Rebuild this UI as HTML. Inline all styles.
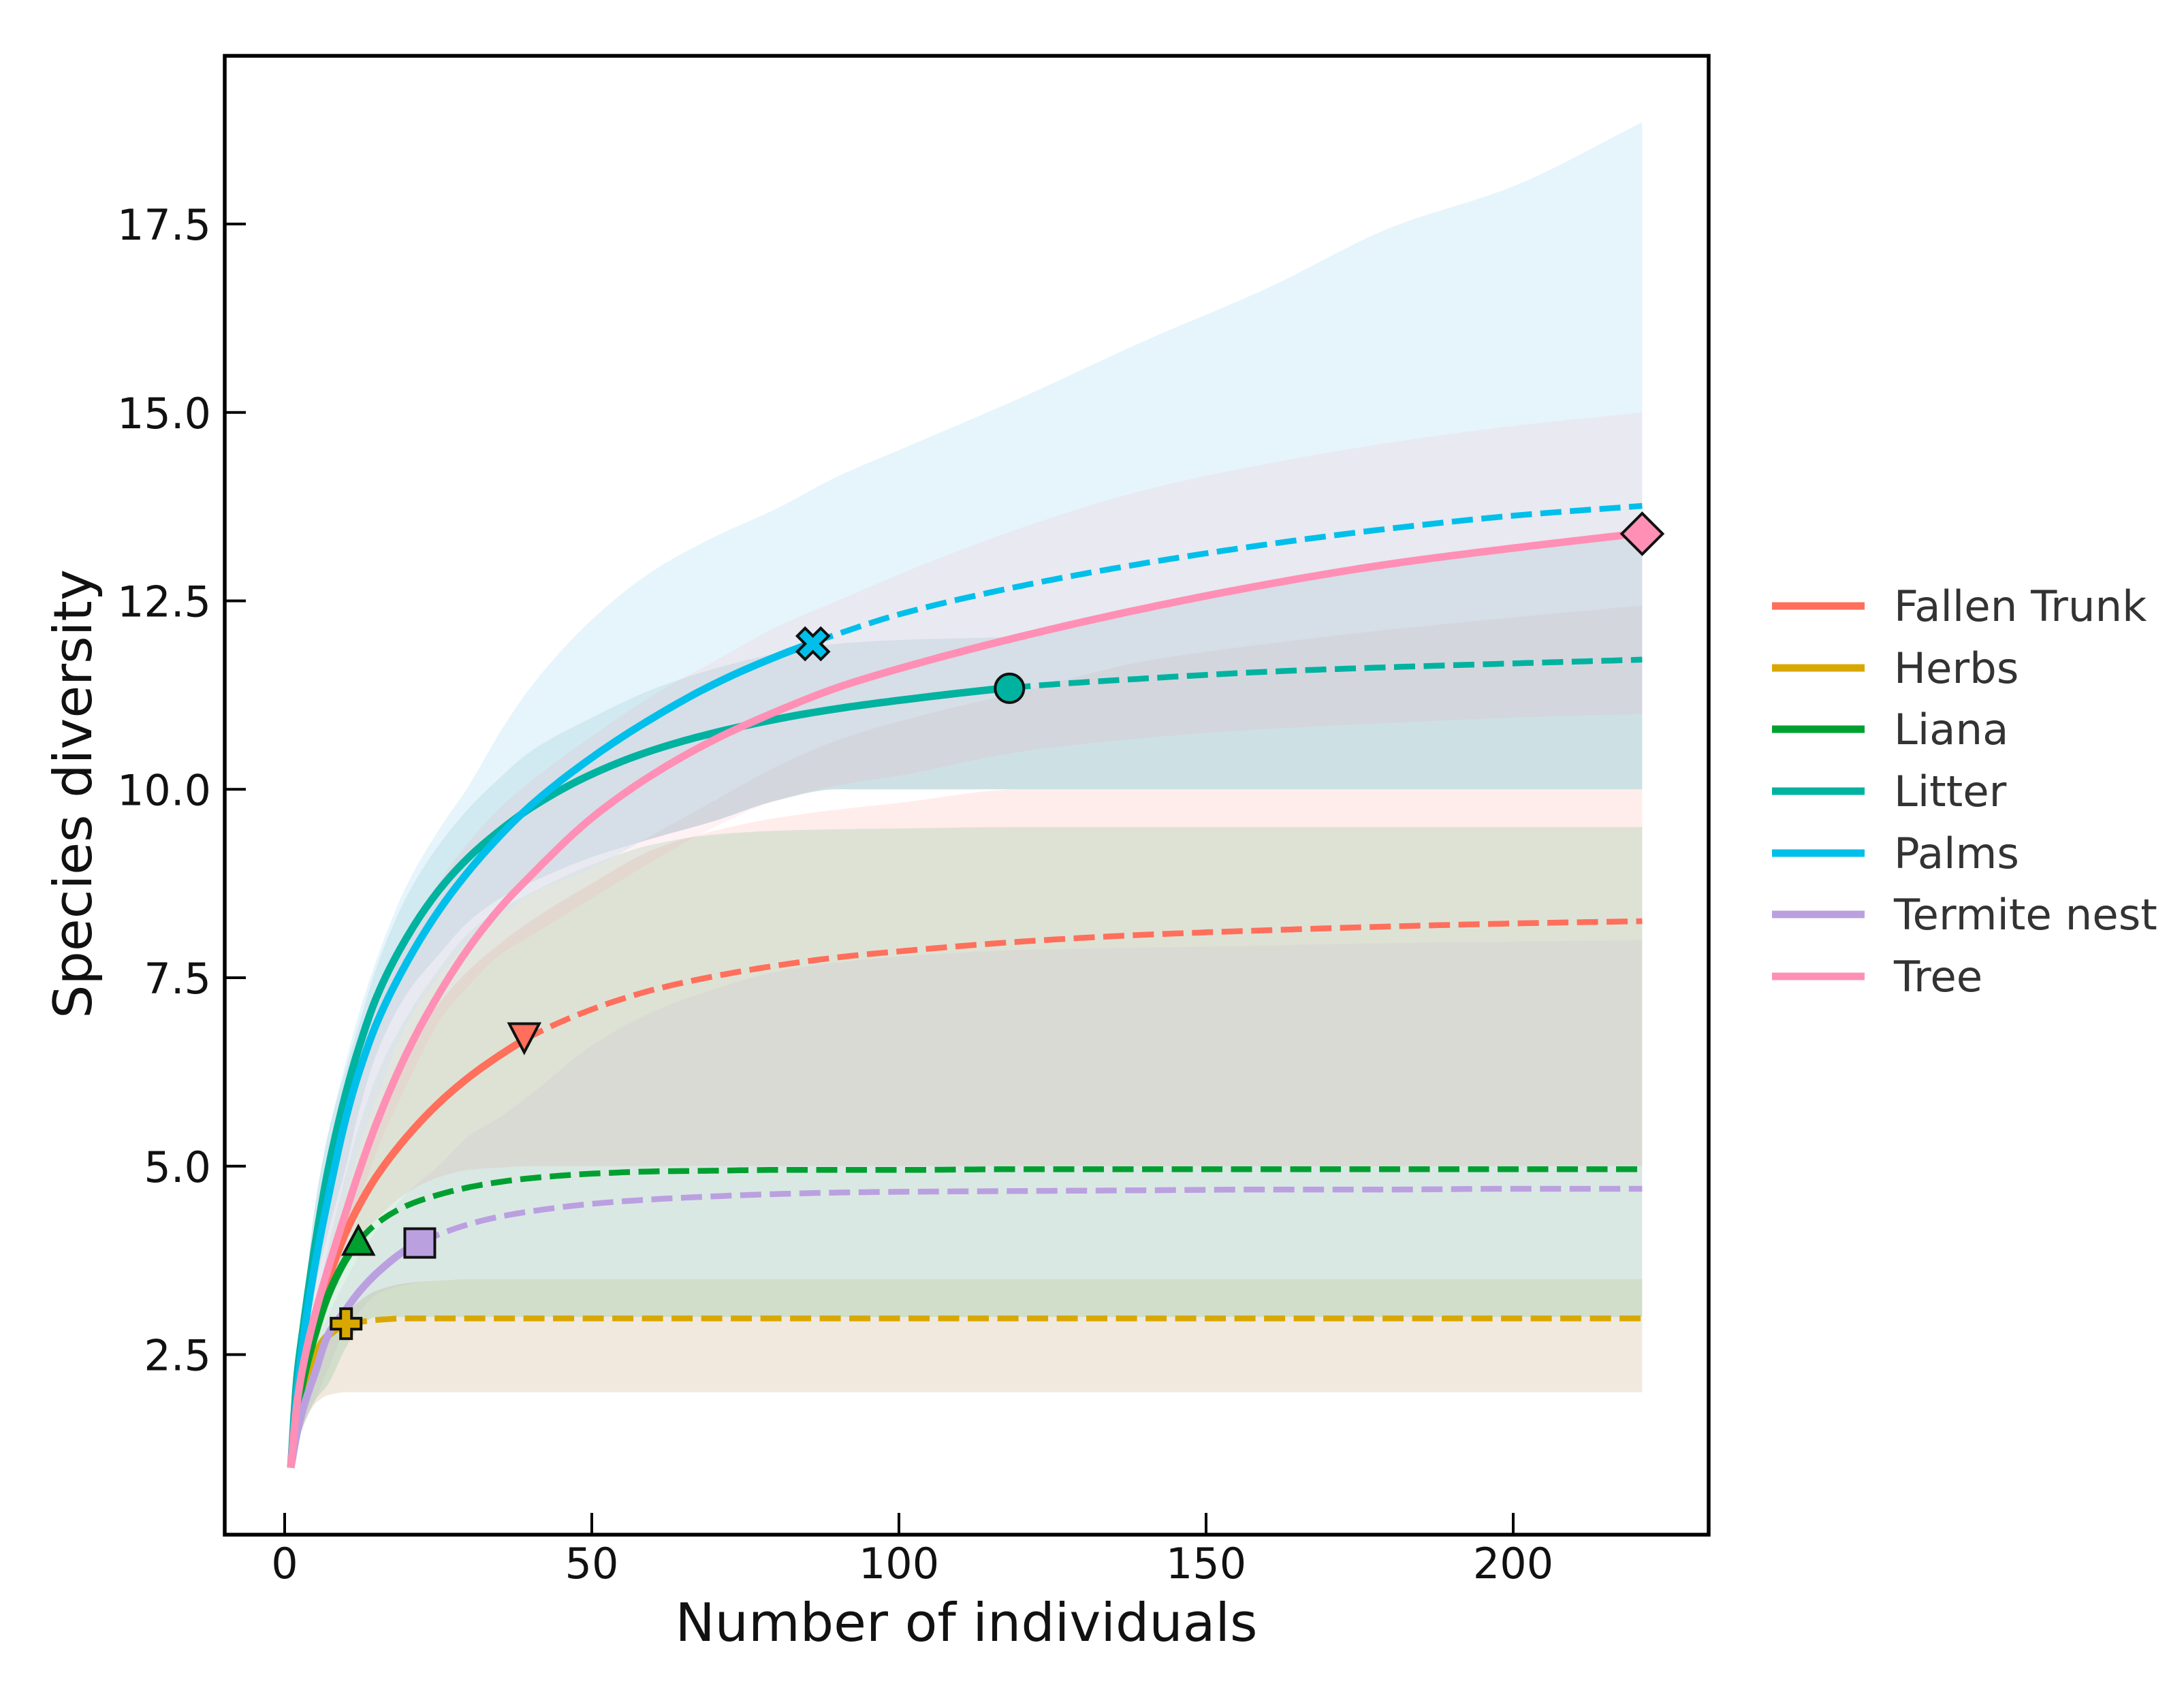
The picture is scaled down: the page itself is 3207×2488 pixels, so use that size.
<!DOCTYPE html>
<html>
<head>
<meta charset="utf-8">
<title>Species diversity rarefaction curves</title>
<style>
html,body{margin:0;padding:0;background:#fff;}
svg{display:block;}
text{font-family:"DejaVu Sans","Liberation Sans",sans-serif;}
</style>
</head>
<body>
<svg id="chart" xmlns="http://www.w3.org/2000/svg" width="3207" height="2488" viewBox="0 0 3207 2488">
  <rect x="0" y="0" width="3207" height="2488" fill="#ffffff"/>
  <g id="bands"></g>
  <g id="lines"></g>
  <g id="markers"></g>
  <rect x="330" y="82" width="2179" height="2172" fill="none" stroke="#000" stroke-width="5.5"/>
  <g id="ticks"></g>
  <text x="1419" y="2410" font-size="77.8" text-anchor="middle" fill="#111">Number of individuals</text>
  <text x="134" y="1166" font-size="77.8" text-anchor="middle" fill="#111" transform="rotate(-90 134 1166)">Species diversity</text>
  <g font-size="62.5" fill="#333">
    <g><line x1="2602" x2="2738" y1="890" y2="890" stroke="#FF6F5B" stroke-width="11"/><text x="2781" y="912">Fallen Trunk</text></g>
    <g><line x1="2602" x2="2738" y1="981" y2="981" stroke="#D9A800" stroke-width="11"/><text x="2781" y="1003">Herbs</text></g>
    <g><line x1="2602" x2="2738" y1="1071" y2="1071" stroke="#00A030" stroke-width="11"/><text x="2781" y="1093">Liana</text></g>
    <g><line x1="2602" x2="2738" y1="1162" y2="1162" stroke="#00B2A0" stroke-width="11"/><text x="2781" y="1184">Litter</text></g>
    <g><line x1="2602" x2="2738" y1="1253" y2="1253" stroke="#00BFEA" stroke-width="11"/><text x="2781" y="1275">Palms</text></g>
    <g><line x1="2602" x2="2738" y1="1343" y2="1343" stroke="#BBA0E0" stroke-width="11"/><text x="2781" y="1365">Termite nest</text></g>
    <g><line x1="2602" x2="2738" y1="1434" y2="1434" stroke="#FF8FB5" stroke-width="11"/><text x="2781" y="1456">Tree</text></g>
  </g>
</svg>
<script>
const xTickValues = [0, 50, 100, 150, 200];
const yTickValues = [2.5, 5, 7.5, 10, 12.5, 15, 17.5];
const yTickLabels = ["2.5", "5.0", "7.5", "10.0", "12.5", "15.0", "17.5"];

const individuals = [1,2,3,5,7,10,12,15,20,25,30,35,40,50,60,70,80,90,100,120,140,160,180,200,221];

const fallenMean = [1,1.72,2.2,2.92,3.47,4.13,4.46,4.87,5.4,5.83,6.18,6.47,6.72,7.08,7.34,7.52,7.66,7.77,7.85,7.98,8.07,8.13,8.18,8.22,8.25];
const herbsMean = [1,1.55,1.95,2.5,2.75,2.9,2.93,2.96,2.98,2.98,2.98,2.98,2.98,2.98,2.98,2.98,2.98,2.98,2.98,2.98,2.98,2.98,2.98,2.98,2.98];
const lianaMean = [1,1.7,2.15,2.78,3.27,3.77,4,4.24,4.48,4.62,4.72,4.79,4.84,4.9,4.93,4.94,4.95,4.95,4.95,4.96,4.96,4.96,4.96,4.96,4.96];
const litterMean = [1,2.2,2.85,3.98,4.92,5.98,6.55,7.25,8.05,8.65,9.1,9.45,9.75,10.2,10.52,10.75,10.93,11.07,11.18,11.36,11.47,11.56,11.62,11.67,11.72];
const palmsMean = [1,1.95,2.68,3.72,4.55,5.65,6.22,6.9,7.72,8.38,8.92,9.38,9.78,10.42,10.95,11.4,11.76,12.06,12.32,12.7,13,13.25,13.46,13.63,13.76];
const termiteMean = [1,1.45,1.78,2.27,2.75,3.1,3.32,3.58,3.9,4.09,4.23,4.33,4.4,4.5,4.56,4.6,4.63,4.65,4.66,4.67,4.68,4.69,4.69,4.7,4.7];
const treeMean = [1,1.85,2.35,3.05,3.62,4.4,4.9,5.58,6.52,7.27,7.9,8.42,8.85,9.62,10.2,10.66,11.03,11.35,11.6,12.03,12.4,12.72,12.99,13.2,13.4];

const fallenUpper = [1,1.7,2.2,3,3.7,4.5,5,5.7,6.55,7.15,7.6,7.95,8.25,8.75,9.2,9.45,9.62,9.73,9.82,10,10,10,10,10,10];
const fallenLower = [1,1.4,1.8,2.5,3.1,3.7,4,4.3,4.65,4.85,4.95,4.98,5,5,5,5,5,5,5,5,5,5,5,5,5];
const herbsUpper = [1,1.4,1.8,2.4,2.8,3.05,3.2,3.35,3.45,3.48,3.5,3.5,3.5,3.5,3.5,3.5,3.5,3.5,3.5,3.5,3.5,3.5,3.5,3.5,3.5];
const herbsLower = [1,1.3,1.55,1.85,1.96,2,2,2,2,2,2,2,2,2,2,2,2,2,2,2,2,2,2,2,2];
const lianaUpper = [1,1.75,2.25,3.1,3.9,4.9,5.5,6.2,7,7.6,8.1,8.4,8.62,9,9.27,9.4,9.45,9.47,9.48,9.5,9.5,9.5,9.5,9.5,9.5];
const lianaLower = [1,1.3,1.55,1.9,2.1,2.6,2.85,3,3,3,3,3,3,3,3,3,3,3,3,3,3,3,3,3,3];
const litterUpper = [1,2.4,3.1,4.5,5.4,6.3,6.85,7.65,8.6,9.25,9.75,10.15,10.5,10.95,11.33,11.6,11.8,11.93,11.98,12.03,12.4,12.72,12.99,13.2,13.4];
const litterLower = [1,1.9,2.4,3.4,4.1,5,5.7,6.5,7.3,7.8,8.25,8.55,8.76,9.1,9.35,9.58,9.85,10,10,10,10,10,10,10,10];
const palmsUpper = [1,2.4,3.1,4.5,5.4,6.4,7,7.75,8.75,9.45,10.05,10.75,11.35,12.25,12.9,13.35,13.72,14.15,14.5,15.2,15.95,16.65,17.45,18,18.85];
const palmsLower = [1,1.6,2.1,3,3.8,4.6,5.2,5.9,6.9,7.5,8,8.3,8.6,8.95,9.4,9.85,10.3,10.65,10.9,11.3,11.7,11.93,12.12,12.28,12.44];
const termiteUpper = [1,1.5,1.9,2.5,3,3.5,3.8,4.15,4.65,5,5.4,5.65,5.95,6.6,7.05,7.35,7.58,7.7,7.78,7.87,7.9,7.93,7.96,7.98,8];
const termiteLower = [1,1.3,1.55,1.9,2.3,2.85,3.05,3.3,3.43,3.48,3.5,3.5,3.5,3.5,3.5,3.5,3.5,3.5,3.5,3.5,3.5,3.5,3.5,3.5,3.5];
const treeUpper = [1,2.2,2.9,4.1,5,6,6.5,7.2,8,8.75,9.3,9.75,10.1,10.7,11.25,11.7,12.15,12.5,12.85,13.47,13.97,14.32,14.6,14.82,15];
const treeLower = [1,1.6,2,2.7,3.2,4,4.5,5.2,6.1,6.9,7.4,7.8,8.05,8.55,9.05,9.5,9.85,10.05,10.18,10.5,10.68,10.8,10.88,10.95,11];

const observedIndividuals = [39, 10, 12, 118, 86, 22, 221];
const observedDiversity = [6.7, 2.91, 4.01, 11.34, 11.93, 3.98, 13.39];

const X0 = 418, XK = 9.02, Y25 = 1989.5, YK = 110.7;
const NS = 'http://www.w3.org/2000/svg';
function xScale(n) { return X0 + n * XK; }
function yScale(v) { return Y25 - (v - 2.5) * YK; }

/* monotone cubic evaluator (Fritsch-Butland tangents) over the read-off samples; drawing only */
function curve(ys) {
  const xs = individuals, m = xs.length, d = [], h = [], t = [];
  for (let i = 0; i < m - 1; i++) {
    h.push(xs[i + 1] - xs[i]);
    d.push((ys[i + 1] - ys[i]) / h[i]);
  }
  t[0] = d[0]; t[m - 1] = d[m - 2];
  for (let i = 1; i < m - 1; i++) {
    t[i] = d[i - 1] * d[i] <= 0 ? 0 : 3 * (h[i - 1] + h[i]) / ((2 * h[i] + h[i - 1]) / d[i - 1] + (h[i] + 2 * h[i - 1]) / d[i]);
  }
  return function (n) {
    let i = 0;
    while (i < m - 2 && n > xs[i + 1]) i++;
    const w = h[i], s = (n - xs[i]) / w;
    const s2 = s * s, s3 = s2 * s;
    return (2 * s3 - 3 * s2 + 1) * ys[i] + (s3 - 2 * s2 + s) * w * t[i] + (-2 * s3 + 3 * s2) * ys[i + 1] + (s3 - s2) * w * t[i + 1];
  };
}
function stepsBetween(a, b) {
  const out = [];
  for (let n = a; n < b; n += (n < 20 ? 0.25 : 1)) out.push(n);
  out.push(b);
  return out;
}
function pathPoints(fn, a, b) {
  return stepsBetween(a, b).map(function (n) { return xScale(n).toFixed(1) + ' ' + yScale(fn(n)).toFixed(1); });
}

const bandsG = document.getElementById('bands');
const linesG = document.getElementById('lines');
const markersG = document.getElementById('markers');
const ticksG = document.getElementById('ticks');
const firstN = individuals[0];
const lastN = individuals[individuals.length - 1];

/* paint order: low bands first, palms and tree last */
const bandNames = ['herbs', 'fallen-trunk', 'liana', 'termite-nest', 'litter', 'palms', 'tree'];
const bandUppers = [herbsUpper, fallenUpper, lianaUpper, termiteUpper, litterUpper, palmsUpper, treeUpper];
const bandLowers = [herbsLower, fallenLower, lianaLower, termiteLower, litterLower, palmsLower, treeLower];
const bandFills = ['rgb(162,108,35)', 'rgb(255,111,97)', 'rgb(0,155,60)', 'rgb(190,150,215)', 'rgb(5,105,120)', 'rgb(212,238,248)', 'rgb(255,150,175)'];
const bandOpacities = [0.15, 0.12, 0.13, 0.1, 0.2, 0.6, 0.12];
bandNames.forEach(function (name, i) {
  const up = pathPoints(curve(bandUppers[i]), firstN, lastN);
  const low = pathPoints(curve(bandLowers[i]), firstN, lastN).reverse();
  const el = document.createElementNS(NS, 'path');
  
  
  el.setAttribute('d', 'M' + up.concat(low).join('L') + 'Z');
  el.setAttribute('fill', bandFills[i]);
  el.setAttribute('fill-opacity', bandOpacities[i]);
  bandsG.appendChild(el);
});

const seriesNames = ['fallen-trunk', 'herbs', 'liana', 'litter', 'palms', 'termite-nest', 'tree'];
const seriesMeans = [fallenMean, herbsMean, lianaMean, litterMean, palmsMean, termiteMean, treeMean];
const seriesColors = ['#FF6F5B', '#D9A800', '#00A030', '#00B2A0', '#00BFEA', '#BBA0E0', '#FF8FB5'];
const markerShapes = [
  'M-22,-21L22,-21L0,21Z',
  'M-8,-22L8,-22L8,-8L22,-8L22,8L8,8L8,22L-8,22L-8,8L-22,8L-22,-8L-8,-8Z',
  'M-22,20L22,20L0,-21Z',
  'CIRCLE',
  'M0,-11.5L11.5,-23L23,-11.5L11.5,0L23,11.5L11.5,23L0,11.5L-11.5,23L-23,11.5L-11.5,0L-23,-11.5L-11.5,-23Z',
  'M-22,-21L22,-21L22,21L-22,21Z',
  'M0,-30L30,0L0,30L-30,0Z'
];

seriesNames.forEach(function (name, i) {
  const fn = curve(seriesMeans[i]);
  const obs = observedIndividuals[i];
  const solid = document.createElementNS(NS, 'path');
  
  
  solid.setAttribute('d', 'M' + pathPoints(fn, firstN, obs).join('L'));
  solid.setAttribute('fill', 'none');
  solid.setAttribute('stroke', seriesColors[i]);
  solid.setAttribute('stroke-width', '11');
  linesG.appendChild(solid);
  if (obs < lastN) {
    const dashed = document.createElementNS(NS, 'path');
    
    
    dashed.setAttribute('d', 'M' + pathPoints(fn, obs, lastN).join('L'));
    dashed.setAttribute('fill', 'none');
    dashed.setAttribute('stroke', seriesColors[i]);
    dashed.setAttribute('stroke-width', '8.5');
    dashed.setAttribute('stroke-dasharray', '31 12.5');
    linesG.appendChild(dashed);
  }
});

seriesNames.forEach(function (name, i) {
  const cx = xScale(observedIndividuals[i]);
  const cy = yScale(observedDiversity[i]);
  let el;
  if (markerShapes[i] === 'CIRCLE') {
    el = document.createElementNS(NS, 'circle');
    el.setAttribute('cx', cx);
    el.setAttribute('cy', cy);
    el.setAttribute('r', '21');
  } else {
    el = document.createElementNS(NS, 'path');
    el.setAttribute('d', markerShapes[i]);
    el.setAttribute('transform', 'translate(' + cx + ' ' + cy + ')');
  }
  
  
  el.setAttribute('fill', seriesColors[i]);
  el.setAttribute('stroke', '#111');
  el.setAttribute('stroke-width', '4');
  el.setAttribute('stroke-linejoin', 'miter');
  markersG.appendChild(el);
});

xTickValues.forEach(function (v) {
  const t = document.createElementNS(NS, 'line');
  
  
  t.setAttribute('x1', xScale(v));
  t.setAttribute('x2', xScale(v));
  t.setAttribute('y1', 2254);
  t.setAttribute('y2', 2222);
  t.setAttribute('stroke', '#000');
  t.setAttribute('stroke-width', '4');
  ticksG.appendChild(t);
  const l = document.createElementNS(NS, 'text');
  
  
  l.setAttribute('x', xScale(v));
  l.setAttribute('y', 2318);
  l.setAttribute('font-size', '62');
  l.setAttribute('text-anchor', 'middle');
  l.setAttribute('fill', '#111');
  l.textContent = String(v);
  ticksG.appendChild(l);
});
yTickValues.forEach(function (v, i) {
  const t = document.createElementNS(NS, 'line');
  
  
  t.setAttribute('x1', 330);
  t.setAttribute('x2', 361);
  t.setAttribute('y1', yScale(v));
  t.setAttribute('y2', yScale(v));
  t.setAttribute('stroke', '#000');
  t.setAttribute('stroke-width', '4');
  ticksG.appendChild(t);
  const l = document.createElementNS(NS, 'text');
  
  
  l.setAttribute('x', 310);
  l.setAttribute('y', yScale(v) + 23);
  l.setAttribute('font-size', '62');
  l.setAttribute('text-anchor', 'end');
  l.setAttribute('fill', '#111');
  l.textContent = yTickLabels[i];
  ticksG.appendChild(l);
});
</script>
</body>
</html>
